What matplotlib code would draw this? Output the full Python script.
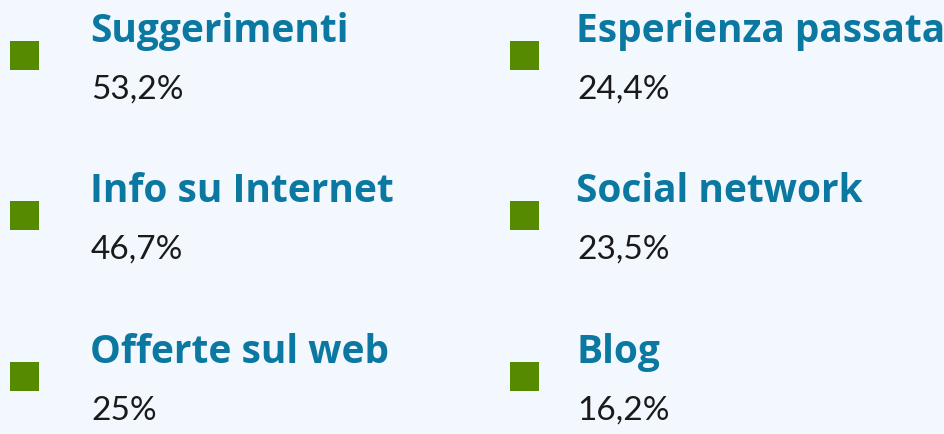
#!/usr/bin/env python3
# Info sources infographic: green markers, teal labels, percentages

import matplotlib.pyplot as plt
from matplotlib.patches import Rectangle

labels = ['Suggerimenti', 'Info su Internet', 'Offerte sul web',
          'Esperienza passata', 'Social network', 'Blog']
values = ['53,2%', '46,7%', '25%', '24,4%', '23,5%', '16,2%']

bg = '#f3f8fe'
green = '#568a00'
teal = '#0a78a0'

fig = plt.figure(figsize=(9.45, 4.35), dpi=100, facecolor=bg)
ax = fig.add_axes([0, 0, 1, 1])
ax.set_facecolor(bg)
ax.set_xlim(0, 945)
ax.set_ylim(435, 0)
ax.axis('off')

col_x = [10, 510]      # square left edge
row_y = [56, 216, 377]  # square centre
sq = 29

for i, (lab, val) in enumerate(zip(labels, values)):
    col, row = divmod(i, 3)
    x0 = col_x[col]
    yc = row_y[row]
    tx = x0 + 81 - col * 14
    ax.add_patch(Rectangle((x0, yc - sq / 2), sq, sq, color=green, lw=0))
    ax.text(tx - 1, yc - 14, lab, color=teal, fontsize=28,
            fontweight='bold', family='Open Sans', va='baseline', ha='left')
    ax.text(tx, yc + 43, val, color='#1a1a1a', fontsize=24,
            fontweight='normal', family='Lato', va='baseline', ha='left')

fig.savefig('out.png', dpi=100, facecolor=bg)
